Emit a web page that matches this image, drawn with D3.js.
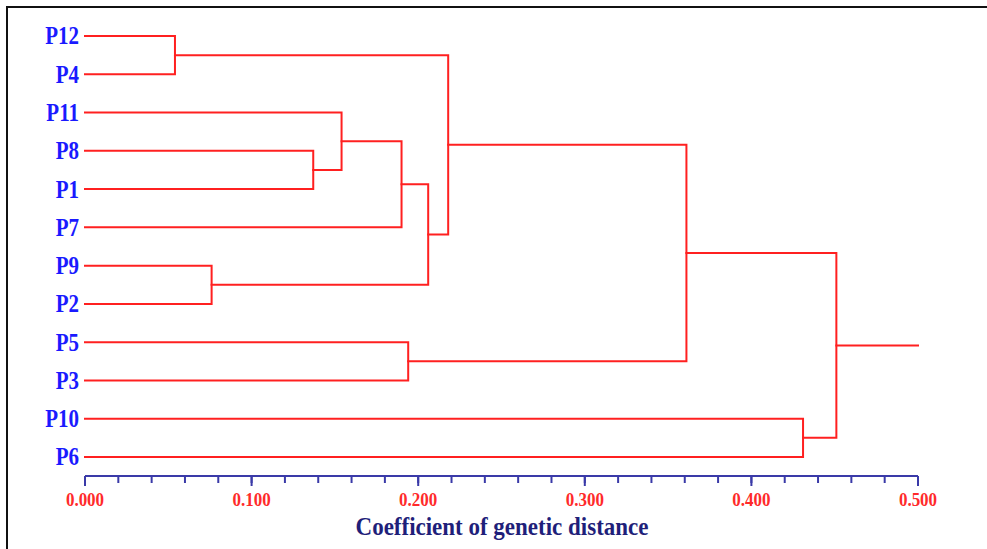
<!DOCTYPE html>
<html>
<head>
<meta charset="utf-8">
<script src="https://cdn.jsdelivr.net/npm/d3@7"></script>
<style>
  body { margin: 0; background: #fff; }
  svg { display: block; }
</style>
</head>
<body>
<svg id="dendro" width="987" height="549"></svg>
<script>
// leaf order as drawn, top to bottom
const leaves = ["P12", "P4", "P11", "P8", "P1", "P7", "P9", "P2", "P5", "P3", "P10", "P6"];

// merges: [left child, right child, distance]; children are leaf names or earlier merge ids (m0, m1, ...)
const merges = [
  ["P12", "P4", 0.054],   // m0
  ["P8", "P1", 0.137],    // m1
  ["P11", "m1", 0.154],   // m2
  ["m2", "P7", 0.190],    // m3
  ["P9", "P2", 0.076],    // m4
  ["m3", "m4", 0.206],    // m5
  ["m0", "m5", 0.218],    // m6
  ["P5", "P3", 0.194],    // m7
  ["m6", "m7", 0.361],    // m8
  ["P10", "P6", 0.431],   // m9
  ["m8", "m9", 0.451]     // m10 (root)
];
const rootTail = 0.5;

const tickValues = [0, 0.1, 0.2, 0.3, 0.4, 0.5];
const minorTicks = d3.range(0, 0.5001, 0.02);

const svg = d3.select("#dendro"),
  width = +svg.attr("width"),
  height = +svg.attr("height");

// frame (runs off the right and bottom edges)
svg.append("rect")
  .attr("x", 7).attr("y", 7)
  .attr("width", width + 20).attr("height", height + 20)
  .attr("fill", "none").attr("stroke", "#111").attr("stroke-width", 2);

const xScale = d3.scaleLinear().domain([0, 0.5]).range([85, 918]);
const yScale = d3.scalePoint().domain(leaves).range([36, 457]);

// node positions
const nodes = new Map();
leaves.forEach((l) => nodes.set(l, { x: xScale(0), y: yScale(l) }));
merges.forEach((m, i) => {
  const a = nodes.get(m[0]), b = nodes.get(m[1]);
  nodes.set("m" + i, { x: xScale(m[2]), y: (a.y + b.y) / 2, a, b });
});

const lineColor = "#ff2020";
const g = svg.append("g")
  .attr("fill", "none")
  .attr("stroke", lineColor)
  .attr("stroke-width", 2)
  .attr("stroke-linecap", "square");

merges.forEach((m, i) => {
  const n = nodes.get("m" + i);
  g.append("path")
    .attr("d", `M${n.a.x},${n.a.y}H${n.x}V${n.b.y}H${n.b.x}`);
});

// root tail
const root = nodes.get("m" + (merges.length - 1));
g.append("path").attr("d", `M${root.x},${root.y}H${xScale(rootTail)}`);

// leaf labels (slightly stretched vertically like the source image)
svg.append("g")
  .selectAll("text")
  .data(leaves)
  .enter()
  .append("text")
  .attr("transform", (d) => `translate(79,${yScale(d)}) scale(1,1.15)`)
  .attr("dy", "0.35em")
  .attr("text-anchor", "end")
  .attr("font-family", "Liberation Serif, Times New Roman, serif")
  .attr("font-weight", "bold")
  .attr("font-size", 21)
  .attr("fill", "#1a1aff")
  .text((d) => d);

// axis
const axisY = 476;
const axisColor = "#3a3aa8";
const axis = svg.append("g").attr("transform", `translate(0,${axisY})`);

axis.append("line")
  .attr("x1", xScale(0)).attr("x2", xScale(0.5))
  .attr("stroke", axisColor).attr("stroke-width", 2);

axis.selectAll(".minor")
  .data(minorTicks)
  .enter()
  .append("line")
  .attr("class", "minor")
  .attr("x1", (d) => xScale(d)).attr("x2", (d) => xScale(d))
  .attr("y1", 0).attr("y2", 7)
  .attr("stroke", axisColor).attr("stroke-width", 2);

axis.selectAll(".major")
  .data(tickValues)
  .enter()
  .append("line")
  .attr("class", "major")
  .attr("x1", (d) => xScale(d)).attr("x2", (d) => xScale(d))
  .attr("y1", 0).attr("y2", 10)
  .attr("stroke", axisColor).attr("stroke-width", 2);

axis.selectAll(".tlabel")
  .data(tickValues)
  .enter()
  .append("text")
  .attr("class", "tlabel")
  .attr("transform", (d) => `translate(${xScale(d)},30) scale(1,1.1)`)
  .attr("text-anchor", "middle")
  .attr("font-family", "Liberation Serif, Times New Roman, serif")
  .attr("font-weight", "bold")
  .attr("font-size", 17)
  .attr("fill", "#ff2a2a")
  .text((d) => d3.format(".3f")(d));

svg.append("text")
  .attr("transform", "translate(502,535) scale(1,1.1)")
  .attr("text-anchor", "middle")
  .attr("font-family", "Liberation Serif, Times New Roman, serif")
  .attr("font-weight", "bold")
  .attr("font-size", 23)
  .attr("fill", "#1f1f7a")
  .text("Coefficient of genetic distance");
</script>
</body>
</html>
